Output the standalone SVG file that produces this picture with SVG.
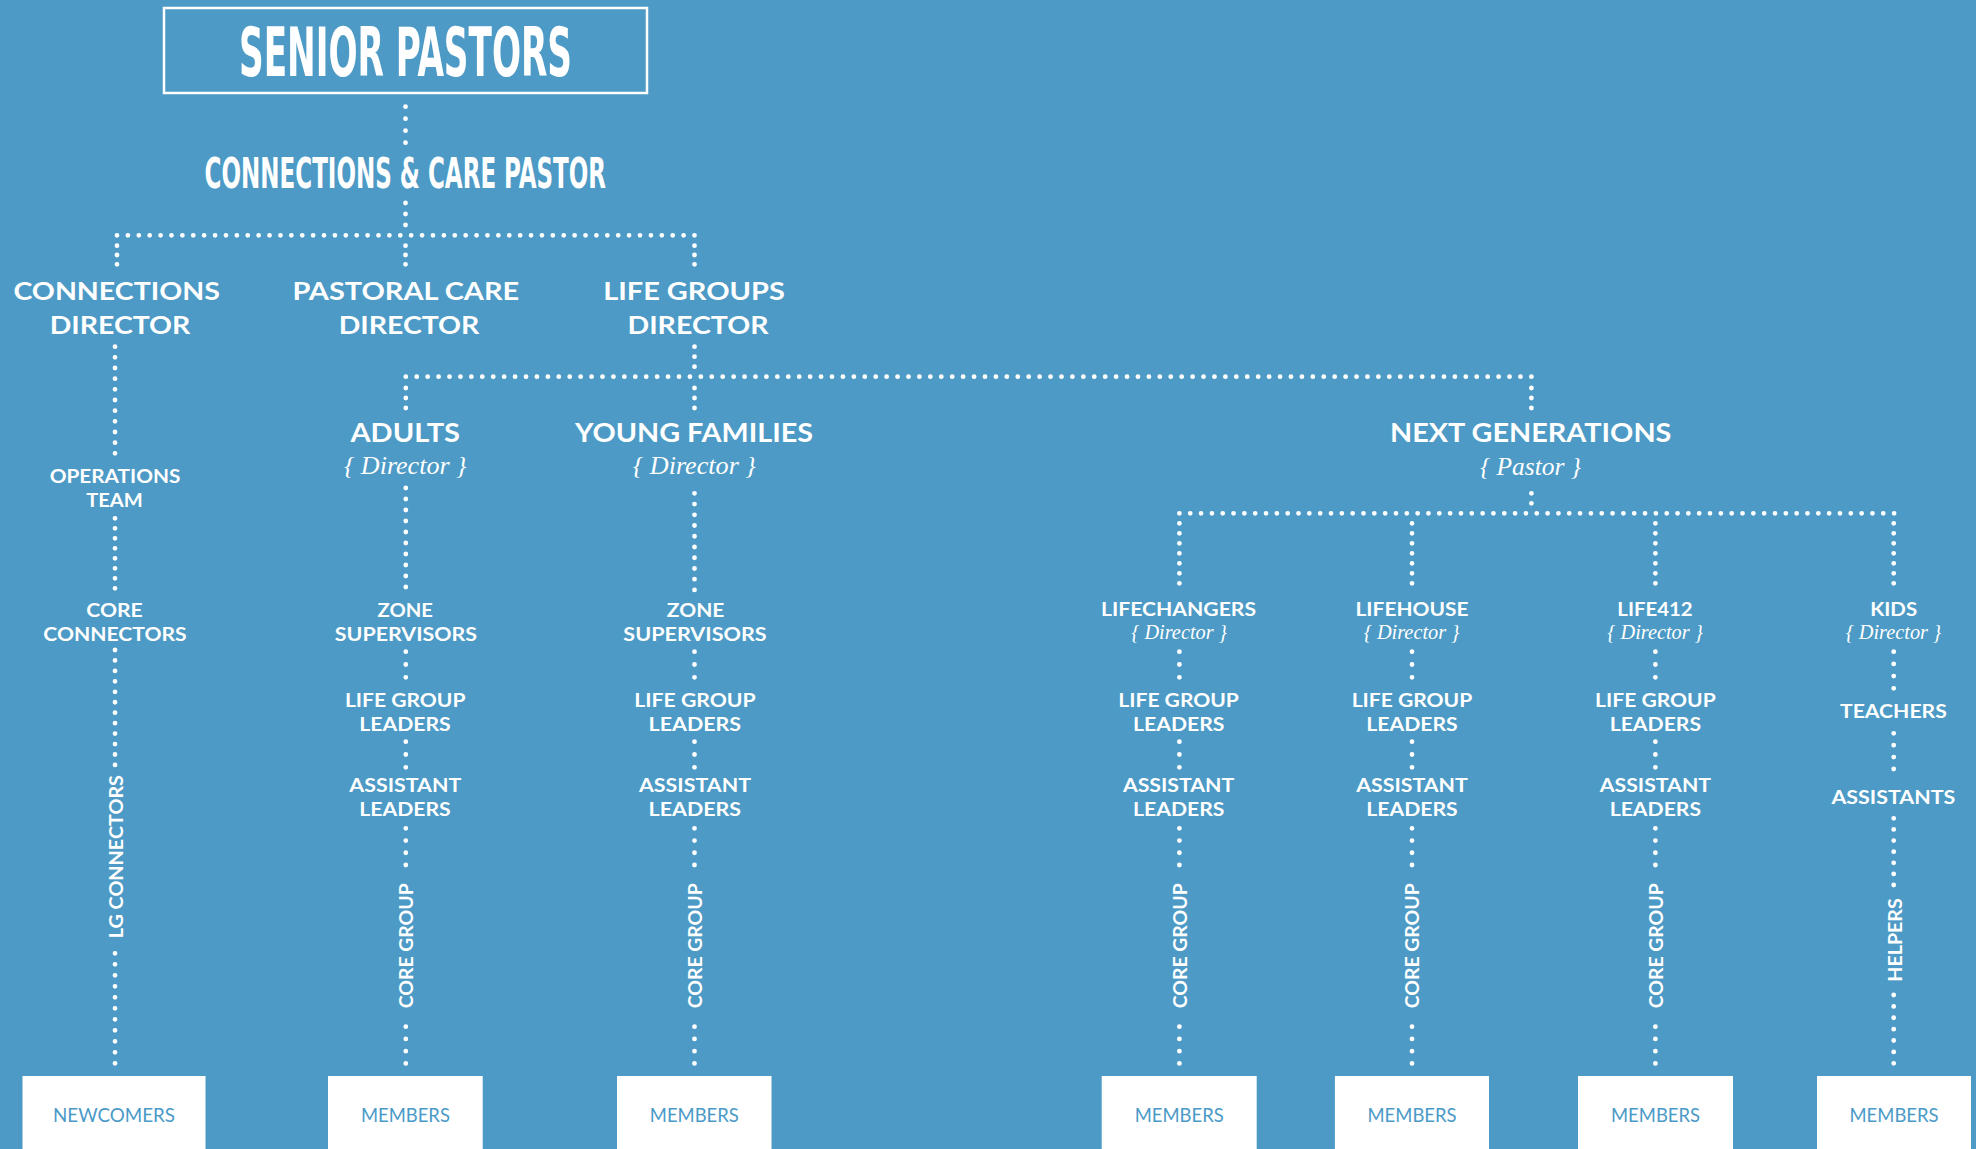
<svg xmlns="http://www.w3.org/2000/svg" width="1976" height="1149" viewBox="0 0 1976 1149">
<style>
.bg{fill:#4c9ac5}
.d{fill:none;stroke:#fff;stroke-width:4.8;stroke-linecap:round}
.t{fill:#fff;font-family:Lato,"Liberation Sans",sans-serif;font-weight:700;text-anchor:middle}
.h1{font-size:24.5px}
.h2{font-size:27px}
.s{font-size:19px}
.c{fill:#fff;font-family:"Liberation Sans Narrow","DejaVu Sans Condensed","Liberation Sans",sans-serif;font-weight:700;text-anchor:middle}
.i{fill:#fff;font-family:"Liberation Serif",serif;font-style:italic;text-anchor:middle}
.r{fill:#fff;font-family:Lato,"Liberation Sans",sans-serif;font-weight:700;font-size:19px;text-anchor:middle}
.box{fill:#fff}
.bt{fill:#4a9ac7;font-family:Lato,"Liberation Sans",sans-serif;font-weight:400;font-size:19px;text-anchor:middle}
</style>
<rect class="bg" x="0" y="0" width="1976" height="1149"/>
<g id="connectors">
<path class="d" stroke-dasharray="0 12" d="M405.5 106.7V143.2"/>
<path class="d" stroke-dasharray="0 11" d="M405.5 203V225.5"/>
<path class="d" stroke-dasharray="0 10.896" d="M117 235.3H695"/>
<path class="d" stroke-dasharray="0 9.3" d="M117 245.7V264.8M405.5 245.7V264.8M694.5 245.7V264.8"/>
<path class="d" stroke-dasharray="0 10.66" d="M115 346.7V453.8"/>
<path class="d" stroke-dasharray="0 10" d="M115 518.3V588.8"/>
<path class="d" stroke-dasharray="0 10.45" d="M115 650V765.5"/>
<path class="d" stroke-dasharray="0 11" d="M115 953.3V1063.8"/>
<path class="d" stroke-dasharray="0 10" d="M694.5 346.7V367.2"/>
<path class="d" stroke-dasharray="0 10.928" d="M405.8 376.7H1531.9"/>
<path class="d" stroke-dasharray="0 10" d="M405.8 388V408.5M694.5 388V408.5M1531.4 388V408.5"/>
<path class="d" stroke-dasharray="0 11" d="M405.8 488V587.5"/>
<path class="d" stroke-dasharray="0 10.74" d="M694.5 493.3V590.5"/>
<path class="d" stroke-dasharray="0 12.8" d="M405.8 651.7V677.8M694.5 651.7V677.8M1179.4 651.7V677.8M1412 651.7V677.8M1655.4 651.7V677.8M405.8 741.7V767.8M694.5 741.7V767.8M1179.4 741.7V767.8M1412 741.7V767.8M1655.4 741.7V767.8"/>
<path class="d" stroke-dasharray="0 12.23" d="M405.8 828.3V865.5M694.5 828.3V865.5M1179.4 828.3V865.5M1412 828.3V865.5M1655.4 828.3V865.5M405.8 1026.7V1063.8M694.5 1026.7V1063.8M1179.4 1026.7V1063.8M1412 1026.7V1063.8M1655.4 1026.7V1063.8"/>
<path class="d" stroke-dasharray="0 10" d="M1531.4 493.3V503.8"/>
<path class="d" stroke-dasharray="0 10.829" d="M1179.4 513.3H1894.2"/>
<path class="d" stroke-dasharray="0 10" d="M1179.4 523.3V583.8M1412 523.3V583.8M1655.4 523.3V583.8M1893.7 523.3V583.8"/>
<path class="d" stroke-dasharray="0 12.2" d="M1893.7 651.7V688.8"/>
<path class="d" stroke-dasharray="0 11.9" d="M1893.7 733.3V769.5"/>
<path class="d" stroke-dasharray="0 11.12" d="M1893.7 818.3V885.5"/>
<path class="d" stroke-dasharray="0 11.38" d="M1893.7 995V1063.8"/>
</g>
<g id="senior-pastors">
<rect x="164" y="8" width="483" height="85" fill="none" stroke="#fff" stroke-width="2.5"/>
<text class="c" x="405.5" y="76" font-size="67" textLength="333" lengthAdjust="spacingAndGlyphs">SENIOR PASTORS</text>
</g>
<g id="connections-care-pastor">
<text class="c" x="405.3" y="188.3" font-size="43" textLength="401.5" lengthAdjust="spacingAndGlyphs">CONNECTIONS &amp; CARE PASTOR</text>
</g>
<g id="connections-director">
<text class="t h1" x="116.7" y="300" textLength="206.6" lengthAdjust="spacingAndGlyphs">CONNECTIONS</text>
<text class="t h1" x="120" y="334.3" textLength="140.6" lengthAdjust="spacingAndGlyphs">DIRECTOR</text>
</g>
<g id="pastoral-care-director">
<text class="t h1" x="405.8" y="300" textLength="226.8" lengthAdjust="spacingAndGlyphs">PASTORAL CARE</text>
<text class="t h1" x="409" y="334.3" textLength="140.6" lengthAdjust="spacingAndGlyphs">DIRECTOR</text>
</g>
<g id="life-groups-director">
<text class="t h1" x="694" y="300" textLength="181.7" lengthAdjust="spacingAndGlyphs">LIFE GROUPS</text>
<text class="t h1" x="698" y="334.3" textLength="141" lengthAdjust="spacingAndGlyphs">DIRECTOR</text>
</g>
<g id="operations-team">
<text class="t s" x="115" y="482.7" textLength="130.7" lengthAdjust="spacingAndGlyphs">OPERATIONS</text>
<text class="t s" x="114.5" y="506.7" textLength="56.5" lengthAdjust="spacingAndGlyphs">TEAM</text>
</g>
<g id="core-connectors">
<text class="t s" x="114.5" y="616.7" textLength="56.5" lengthAdjust="spacingAndGlyphs">CORE</text>
<text class="t s" x="115" y="640.7" textLength="143.3" lengthAdjust="spacingAndGlyphs">CONNECTORS</text>
</g>
<g id="lg-connectors">
<text class="r" transform="translate(122.7 856.7) rotate(-90)" textLength="163.3" lengthAdjust="spacingAndGlyphs">LG CONNECTORS</text>
</g>
<g id="newcomers">
<rect class="box" x="22.5" y="1076" width="183" height="80"/>
<text class="bt" x="114" y="1122" textLength="122" lengthAdjust="spacingAndGlyphs">NEWCOMERS</text>
</g>
<g id="adults">
<text class="t h2" x="405.2" y="441.7" textLength="109.6" lengthAdjust="spacingAndGlyphs">ADULTS</text>
<text class="i" x="405.2" y="474" font-size="26" textLength="122.5" lengthAdjust="spacingAndGlyphs">{ Director }</text>
</g>
<g id="adults-zone-supervisors">
<text class="t s" x="405.3" y="616.7" textLength="55.4" lengthAdjust="spacingAndGlyphs">ZONE</text>
<text class="t s" x="405.9" y="640.7" textLength="142.3" lengthAdjust="spacingAndGlyphs">SUPERVISORS</text>
</g>
<g id="adults-life-group-leaders">
<text class="t s" x="405.2" y="707" textLength="120.5" lengthAdjust="spacingAndGlyphs">LIFE GROUP</text>
<text class="t s" x="405" y="731" textLength="91.5" lengthAdjust="spacingAndGlyphs">LEADERS</text>
</g>
<g id="adults-assistant-leaders">
<text class="t s" x="405.3" y="792.3" textLength="112" lengthAdjust="spacingAndGlyphs">ASSISTANT</text>
<text class="t s" x="405" y="816" textLength="91.5" lengthAdjust="spacingAndGlyphs">LEADERS</text>
</g>
<g id="adults-core-group">
<text class="r" transform="translate(413.3 945.8) rotate(-90)" textLength="125" lengthAdjust="spacingAndGlyphs">CORE GROUP</text>
</g>
<g id="adults-members">
<rect class="box" x="328" y="1076" width="154.7" height="80"/>
<text class="bt" x="405.4" y="1122" textLength="89" lengthAdjust="spacingAndGlyphs">MEMBERS</text>
</g>
<g id="young-families">
<text class="t h2" x="694" y="441.7" textLength="238" lengthAdjust="spacingAndGlyphs">YOUNG FAMILIES</text>
<text class="i" x="694.3" y="474" font-size="26" textLength="123" lengthAdjust="spacingAndGlyphs">{ Director }</text>
</g>
<g id="yf-zone-supervisors">
<text class="t s" x="695.6" y="616.7" textLength="57.6" lengthAdjust="spacingAndGlyphs">ZONE</text>
<text class="t s" x="695" y="640.7" textLength="143.3" lengthAdjust="spacingAndGlyphs">SUPERVISORS</text>
</g>
<g id="yf-life-group-leaders">
<text class="t s" x="695" y="707" textLength="121.5" lengthAdjust="spacingAndGlyphs">LIFE GROUP</text>
<text class="t s" x="694.8" y="731" textLength="92.5" lengthAdjust="spacingAndGlyphs">LEADERS</text>
</g>
<g id="yf-assistant-leaders">
<text class="t s" x="695" y="792.3" textLength="112" lengthAdjust="spacingAndGlyphs">ASSISTANT</text>
<text class="t s" x="694.8" y="816" textLength="92.5" lengthAdjust="spacingAndGlyphs">LEADERS</text>
</g>
<g id="yf-core-group">
<text class="r" transform="translate(702 945.8) rotate(-90)" textLength="125" lengthAdjust="spacingAndGlyphs">CORE GROUP</text>
</g>
<g id="yf-members">
<rect class="box" x="617" y="1076" width="154.5" height="80"/>
<text class="bt" x="694.3" y="1122" textLength="89" lengthAdjust="spacingAndGlyphs">MEMBERS</text>
</g>
<g id="next-generations">
<text class="t h2" x="1530.7" y="441.7" textLength="281.4" lengthAdjust="spacingAndGlyphs">NEXT GENERATIONS</text>
<text class="i" x="1530.5" y="475" font-size="26" textLength="101" lengthAdjust="spacingAndGlyphs">{ Pastor }</text>
</g>
<g id="lifechangers">
<text class="t s" x="1178.5" y="616" textLength="155" lengthAdjust="spacingAndGlyphs">LIFECHANGERS</text>
<text class="i" x="1179" y="639.3" font-size="20.5" textLength="95.5" lengthAdjust="spacingAndGlyphs">{ Director }</text>
</g>
<g id="lc-life-group-leaders">
<text class="t s" x="1178.6" y="707" textLength="120.6" lengthAdjust="spacingAndGlyphs">LIFE GROUP</text>
<text class="t s" x="1178.8" y="731" textLength="91.4" lengthAdjust="spacingAndGlyphs">LEADERS</text>
</g>
<g id="lc-assistant-leaders">
<text class="t s" x="1178.6" y="792.3" textLength="111.4" lengthAdjust="spacingAndGlyphs">ASSISTANT</text>
<text class="t s" x="1178.8" y="816" textLength="91.4" lengthAdjust="spacingAndGlyphs">LEADERS</text>
</g>
<g id="lc-core-group">
<text class="r" transform="translate(1186.5 945.8) rotate(-90)" textLength="125" lengthAdjust="spacingAndGlyphs">CORE GROUP</text>
</g>
<g id="lc-members">
<rect class="box" x="1101.7" y="1076" width="155" height="80"/>
<text class="bt" x="1179.2" y="1122" textLength="89" lengthAdjust="spacingAndGlyphs">MEMBERS</text>
</g>
<g id="lifehouse">
<text class="t s" x="1412" y="616" textLength="113" lengthAdjust="spacingAndGlyphs">LIFEHOUSE</text>
<text class="i" x="1411.5" y="639.3" font-size="20.5" textLength="95.5" lengthAdjust="spacingAndGlyphs">{ Director }</text>
</g>
<g id="lh-life-group-leaders">
<text class="t s" x="1412" y="707" textLength="120.6" lengthAdjust="spacingAndGlyphs">LIFE GROUP</text>
<text class="t s" x="1412" y="731" textLength="91.4" lengthAdjust="spacingAndGlyphs">LEADERS</text>
</g>
<g id="lh-assistant-leaders">
<text class="t s" x="1412" y="792.3" textLength="111.4" lengthAdjust="spacingAndGlyphs">ASSISTANT</text>
<text class="t s" x="1412" y="816" textLength="91.4" lengthAdjust="spacingAndGlyphs">LEADERS</text>
</g>
<g id="lh-core-group">
<text class="r" transform="translate(1419.2 945.8) rotate(-90)" textLength="125" lengthAdjust="spacingAndGlyphs">CORE GROUP</text>
</g>
<g id="lh-members">
<rect class="box" x="1334.9" y="1076" width="154.1" height="80"/>
<text class="bt" x="1412" y="1122" textLength="89" lengthAdjust="spacingAndGlyphs">MEMBERS</text>
</g>
<g id="life412">
<text class="t s" x="1655" y="616" textLength="75.4" lengthAdjust="spacingAndGlyphs">LIFE412</text>
<text class="i" x="1655.1" y="639.3" font-size="20.5" textLength="95.5" lengthAdjust="spacingAndGlyphs">{ Director }</text>
</g>
<g id="l412-life-group-leaders">
<text class="t s" x="1655.4" y="707" textLength="120.6" lengthAdjust="spacingAndGlyphs">LIFE GROUP</text>
<text class="t s" x="1655.4" y="731" textLength="91.4" lengthAdjust="spacingAndGlyphs">LEADERS</text>
</g>
<g id="l412-assistant-leaders">
<text class="t s" x="1655.4" y="792.3" textLength="111.4" lengthAdjust="spacingAndGlyphs">ASSISTANT</text>
<text class="t s" x="1655.4" y="816" textLength="91.4" lengthAdjust="spacingAndGlyphs">LEADERS</text>
</g>
<g id="l412-core-group">
<text class="r" transform="translate(1662.6 945.8) rotate(-90)" textLength="125" lengthAdjust="spacingAndGlyphs">CORE GROUP</text>
</g>
<g id="l412-members">
<rect class="box" x="1578" y="1076" width="155" height="80"/>
<text class="bt" x="1655.5" y="1122" textLength="89" lengthAdjust="spacingAndGlyphs">MEMBERS</text>
</g>
<g id="kids">
<text class="t s" x="1893.7" y="616" textLength="46.9" lengthAdjust="spacingAndGlyphs">KIDS</text>
<text class="i" x="1893.4" y="639.3" font-size="20.5" textLength="95.5" lengthAdjust="spacingAndGlyphs">{ Director }</text>
</g>
<g id="teachers">
<text class="t s" x="1893.4" y="717.7" textLength="106.8" lengthAdjust="spacingAndGlyphs">TEACHERS</text>
</g>
<g id="assistants">
<text class="t s" x="1893.4" y="804.3" textLength="124" lengthAdjust="spacingAndGlyphs">ASSISTANTS</text>
</g>
<g id="helpers">
<text class="r" transform="translate(1901.7 940) rotate(-90)" textLength="83.4" lengthAdjust="spacingAndGlyphs">HELPERS</text>
</g>
<g id="kids-members">
<rect class="box" x="1817" y="1076" width="154" height="80"/>
<text class="bt" x="1894" y="1122" textLength="89" lengthAdjust="spacingAndGlyphs">MEMBERS</text>
</g>
</svg>
